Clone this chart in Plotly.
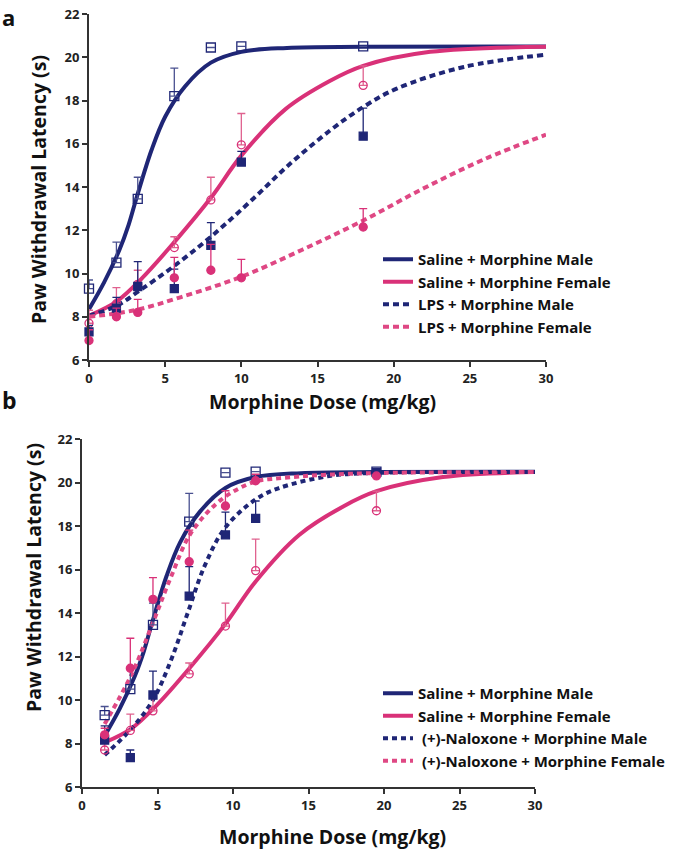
import plotly.graph_objects as go

W, H = 674, 852

# ---------------- Panel a data ----------------
a_dose = [0, 1.8, 3.2, 5.6, 8, 10, 18]
a_sal_m = [9.3, 10.5, 13.45, 18.2, 20.45, 20.5, 20.5]
a_sal_m_err = [0.4, 0.95, 1.0, 1.3, 0, 0, 0]
a_sal_f = [7.7, 8.6, 9.5, 11.2, 13.4, 15.95, 18.7]
a_sal_f_err = [0.6, 0.75, 0.65, 0.5, 1.05, 1.45, 0.9]
a_lps_m = [7.3, 8.4, 9.4, 9.3, 11.3, 15.15, 16.35]
a_lps_m_err = [0.3, 0.5, 1.15, 0.9, 1.05, 0.5, 1.3]
a_lps_f = [6.9, 8.0, 8.2, 9.8, 10.15, 9.8, 12.15]
a_lps_f_err = [0.5, 0.4, 0.6, 0.95, 1.2, 0.85, 0.85]

# fitted curves
a_fit_sal_m_x = [0, 1, 2, 2.6, 3.1, 4.1, 5, 6.3, 8, 10, 13, 18, 30]
a_fit_sal_m_y = [8.35, 9.6, 11.1, 12.25, 13.45, 15.7, 17.25, 18.65, 19.75, 20.25, 20.43, 20.48, 20.5]
a_fit_sal_f_x = [0, 1.8, 3.5, 5.6, 8, 10, 12.9, 15.8, 18, 22.4, 30]
a_fit_sal_f_y = [8.05, 8.7, 9.8, 11.45, 13.5, 15.45, 17.6, 18.9, 19.6, 20.25, 20.48]
a_fit_lps_m_x = [0, 1.8, 3.3, 5.5, 8, 11, 13, 15.8, 18, 20.2, 24.6, 30]
a_fit_lps_m_y = [8.05, 8.5, 9.2, 10.3, 11.7, 13.6, 14.95, 16.6, 17.7, 18.55, 19.55, 20.12]
a_fit_lps_f_x = [0, 3, 6, 10, 14, 18, 22, 26, 30]
a_fit_lps_f_y = [8.0, 8.3, 8.9, 9.85, 11.1, 12.45, 13.95, 15.3, 16.42]

# ---------------- Panel b data ----------------
b_dose = [1.5, 3.2, 4.7, 7.1, 9.5, 11.5, 19.5]
b_sal_m = [9.3, 10.5, 13.45, 18.2, 20.45, 20.5, 20.5]
b_sal_m_err = [0.4, 0.95, 1.0, 1.3, 0, 0, 0]
b_sal_f = [7.7, 8.6, 9.5, 11.2, 13.4, 15.95, 18.7]
b_sal_f_err = [0.3, 0.75, 0.65, 0.5, 1.05, 1.45, 0.9]
b_nal_m = [8.16, 7.35, 10.23, 14.78, 17.59, 18.35, 20.45]
b_nal_m_err = [0.65, 0.35, 1.1, 1.35, 1.05, 0.8, 0]
b_nal_f = [8.4, 11.46, 14.63, 16.36, 18.92, 20.08, 20.3]
b_nal_f_err = [0.3, 1.38, 1.0, 1.45, 0.7, 0.3, 0]

b_fit_sal_m_x = [1.5, 2.5, 3.5, 4.1, 4.6, 5.6, 6.5, 7.8, 9.5, 11.5, 14.5, 19.5, 30]
b_fit_sal_m_y = [8.35, 9.6, 11.1, 12.25, 13.45, 15.7, 17.25, 18.65, 19.75, 20.25, 20.43, 20.48, 20.5]
b_fit_sal_f_x = [1.5, 3.3, 5.0, 7.1, 9.5, 11.5, 14.4, 17.3, 19.5, 23.9, 30]
b_fit_sal_f_y = [8.05, 8.7, 9.8, 11.45, 13.5, 15.45, 17.6, 18.9, 19.6, 20.25, 20.48]
b_fit_nal_m_x = [1.5, 3.3, 4.7, 5.9, 7.0, 8.1, 9.45, 11.45, 13, 16.4, 20, 30]
b_fit_nal_m_y = [7.47, 8.7, 10.0, 11.84, 14.0, 16.13, 17.89, 19.2, 19.73, 20.3, 20.45, 20.48]
b_fit_nal_f_x = [1.5, 3.3, 4.75, 5.9, 7.2, 9.2, 11.45, 13, 16, 20, 30]
b_fit_nal_f_y = [8.9, 11.2, 13.65, 15.67, 17.66, 19.2, 20.04, 20.19, 20.35, 20.44, 20.48]

a_names = ["Saline + Morphine Male", "Saline + Morphine Female",
           "LPS + Morphine Male", "LPS + Morphine Female"]
b_names = ["Saline + Morphine Male", "Saline + Morphine Female",
           " (+)-Naloxone + Morphine Male", " (+)-Naloxone + Morphine Female"]

NAVY = "#1f2676"
PINK = "#d93178"
PINK_D = "#df4884"
NAVY_ERR = "#4a5190"
PINK_ERR = "#e0628f"
FONT = "Open Sans"

fig = go.Figure()


def add_curve(x, y, color, dash, name, xa, ya, legend):
    fig.add_trace(go.Scatter(
        x=x, y=y, mode="lines", name=name, legend=legend,
        line=dict(color=color, width=4, dash=dash, shape="spline", smoothing=1.0),
        xaxis=xa, yaxis=ya, cliponaxis=False, hoverinfo="skip"))


def add_points(x, y, err, color, ecolor, symbol, size, xa, ya):
    fig.add_trace(go.Scatter(
        x=x, y=y, mode="markers", showlegend=False,
        marker=dict(symbol=symbol, size=size, color=color,
                    line=dict(color=color, width=1.3)),
        error_y=dict(type="data", symmetric=False, array=err,
                     arrayminus=[0] * len(err), color=ecolor,
                     thickness=1.3, width=4),
        xaxis=xa, yaxis=ya, cliponaxis=False))


DASH_A = "6px,4px"
DASH_B = "5px,4px"

# Panel a curves
add_curve(a_fit_sal_m_x, a_fit_sal_m_y, NAVY, "solid", a_names[0], "x", "y", "legend")
add_curve(a_fit_sal_f_x, a_fit_sal_f_y, PINK, "solid", a_names[1], "x", "y", "legend")
add_curve(a_fit_lps_m_x, a_fit_lps_m_y, NAVY, DASH_A, a_names[2], "x", "y", "legend")
add_curve(a_fit_lps_f_x, a_fit_lps_f_y, PINK_D, DASH_A, a_names[3], "x", "y", "legend")
# Panel a points
add_points(a_dose, a_sal_m, a_sal_m_err, NAVY, NAVY_ERR, "square-open", 9, "x", "y")
add_points(a_dose, a_sal_f, a_sal_f_err, PINK, PINK_ERR, "circle-open", 8, "x", "y")
add_points(a_dose, a_lps_m, a_lps_m_err, NAVY, NAVY, "square", 8, "x", "y")
add_points(a_dose, a_lps_f, a_lps_f_err, PINK, PINK, "circle", 8, "x", "y")

# Panel b curves
add_curve(b_fit_sal_m_x, b_fit_sal_m_y, NAVY, "solid", b_names[0], "x2", "y2", "legend2")
add_curve(b_fit_sal_f_x, b_fit_sal_f_y, PINK, "solid", b_names[1], "x2", "y2", "legend2")
add_curve(b_fit_nal_m_x, b_fit_nal_m_y, NAVY, DASH_B, b_names[2], "x2", "y2", "legend2")
add_curve(b_fit_nal_f_x, b_fit_nal_f_y, PINK_D, DASH_B, b_names[3], "x2", "y2", "legend2")
# Panel b points
add_points(b_dose, b_sal_m, b_sal_m_err, NAVY, NAVY_ERR, "square-open", 9, "x2", "y2")
add_points(b_dose, b_sal_f, b_sal_f_err, PINK, PINK_ERR, "circle-open", 8, "x2", "y2")
add_points(b_dose, b_nal_m, b_nal_m_err, NAVY, NAVY, "square", 8, "x2", "y2")
add_points(b_dose, b_nal_f, b_nal_f_err, PINK, PINK, "circle", 8, "x2", "y2")

tickfont = dict(family=FONT, size=13, color="#222", weight="bold")


def xaxis(domain, anchor):
    return dict(domain=domain, anchor=anchor, range=[0, 30], tickvals=[0, 5, 10, 15, 20, 25, 30],
                showgrid=False, zeroline=False, showline=True, linecolor="#333", linewidth=2,
                ticks="outside", ticklen=5, tickwidth=2, tickcolor="#333", tickfont=tickfont,
                fixedrange=True, automargin=False)


def yaxis(domain, anchor):
    return dict(domain=domain, anchor=anchor, range=[6, 22], tickvals=list(range(6, 23, 2)),
                showgrid=False, zeroline=False, showline=True, linecolor="#333", linewidth=2,
                ticks="outside", ticklen=5, tickwidth=2, tickcolor="#333", tickfont=tickfont,
                fixedrange=True, automargin=False)


def px_x(p):
    return p / W


def px_y(p):
    return 1 - p / H


legend_font = dict(family=FONT, size=15, color="#111", weight="bold")

fig.update_layout(
    width=W, height=H, autosize=False,
    margin=dict(l=0, r=0, t=0, b=0, autoexpand=False),
    paper_bgcolor="white", plot_bgcolor="white",
    xaxis=xaxis([px_x(89), px_x(546)], "y"),
    yaxis=yaxis([px_y(360), px_y(14)], "x"),
    xaxis2=xaxis([px_x(82), px_x(535)], "y2"),
    yaxis2=yaxis([px_y(787), px_y(439)], "x2"),
    legend=dict(x=px_x(378), y=px_y(243), xanchor="left", yanchor="top",
                font=legend_font, bgcolor="rgba(0,0,0,0)", itemwidth=30,
                tracegroupgap=0),
    legend2=dict(x=px_x(378), y=px_y(677), xanchor="left", yanchor="top",
                 font=legend_font, bgcolor="rgba(0,0,0,0)", itemwidth=30,
                 tracegroupgap=0),
    showlegend=True,
)

title_font = dict(family=FONT, size=19.5, color="#111", weight="bold")
ann = [
    dict(text="Morphine Dose (mg/kg)", x=px_x(322), y=px_y(401), font=title_font),
    dict(text="Morphine Dose (mg/kg)", x=px_x(332), y=px_y(836), font=title_font),
    dict(text="Paw Withdrawal Latency (s)", x=px_x(38), y=px_y(190), textangle=-90, font=title_font),
    dict(text="Paw Withdrawal Latency (s)", x=px_x(33), y=px_y(578), textangle=-90, font=title_font),
    dict(text="a", x=px_x(0), y=1, xanchor="left", yanchor="top",
         font=dict(family=FONT, size=22, color="#111", weight="bold")),
    dict(text="b", x=px_x(0), y=px_y(400), xanchor="left",
         font=dict(family=FONT, size=23, color="#111", weight="bold")),
]
for a in ann:
    a.setdefault("xanchor", "center")
    a.setdefault("yanchor", "middle")
    a.update(xref="paper", yref="paper", showarrow=False)
fig.update_layout(annotations=ann)

fig.write_html("out.html", config={"displayModeBar": False},
               post_script="document.body.style.margin='0px';")
